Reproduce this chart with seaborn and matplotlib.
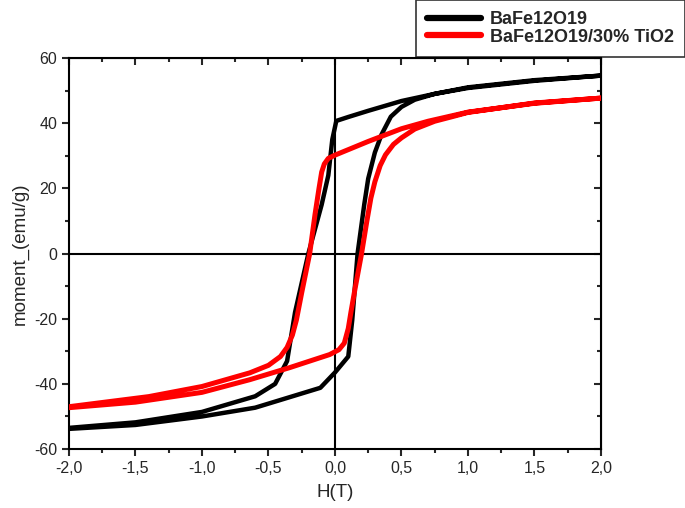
import numpy as np
import pandas as pd
import seaborn as sns
import matplotlib.pyplot as plt
from matplotlib.ticker import MultipleLocator, FuncFormatter

# hysteresis loops: descending branch (2 -> -2) then ascending (-2 -> 2)
h_bafe = [2.0, 1.5, 1.0, 0.75, 0.5, 0.25, 0.1, 0.01, -0.02, -0.05, -0.1, -0.2, -0.3, -0.36,
          -0.45, -0.6, -1.0, -1.5, -2.0,
          -2.0, -1.5, -1.0, -0.6, -0.11, 0.0, 0.1, 0.13, 0.17, 0.22, 0.25, 0.3, 0.35,
          0.42, 0.5, 0.6, 0.75, 1.0, 1.5, 2.0]
m_bafe = [54.6, 53.0, 50.8, 49.0, 46.8, 43.8, 41.9, 40.7, 35.0, 24.0, 15.0, 0.0, -18.0, -33.0,
          -40.0, -43.8, -48.6, -51.8, -53.5,
          -53.8, -52.6, -50.0, -47.3, -41.2, -36.5, -31.6, -20.4, 0.0, 15.0, 23.0, 31.0, 36.5,
          42.0, 45.0, 47.2, 49.0, 51.0, 53.2, 54.6]

h_tio2 = [2.0, 1.5, 1.0, 0.7, 0.5, 0.25, 0.0, -0.05, -0.08, -0.1, -0.12, -0.15, -0.19,
          -0.25, -0.29, -0.32, -0.36, -0.41, -0.5, -0.64, -1.0, -1.4, -2.0,
          -2.0, -1.5, -1.0, -0.64, -0.34, -0.04, 0.03, 0.07, 0.1, 0.12, 0.15, 0.2, 0.24,
          0.27, 0.3, 0.34, 0.38, 0.44, 0.5, 0.6, 0.75, 0.9, 1.0, 1.5, 2.0]
m_tio2 = [47.7, 46.1, 43.4, 40.6, 38.3, 34.4, 30.2, 29.2, 27.5, 25.0, 20.0, 12.0, 0.0,
          -12.0, -20.4, -25.0, -28.8, -31.6, -34.3, -36.6, -40.8, -43.9, -47.0,
          -47.3, -45.6, -42.6, -38.7, -35.0, -31.0, -29.5, -27.5, -23.0, -18.0, -11.0, 0.0, 10.0,
          17.0, 22.0, 27.0, 30.3, 33.5, 35.5, 38.2, 40.6, 42.2, 43.3, 46.2, 47.7]

labels = ['BaFe12O19', 'BaFe12O19/30% TiO2']
colors = ['black', 'red']

df = pd.concat([
    pd.DataFrame({'H': h_bafe, 'M': m_bafe, 'sample': labels[0]}),
    pd.DataFrame({'H': h_tio2, 'M': m_tio2, 'sample': labels[1]}),
], ignore_index=True)

sns.set_style('ticks')
plt.rcParams['font.family'] = ['Liberation Sans', 'DejaVu Sans']
plt.rcParams['axes.unicode_minus'] = False

fig = plt.figure(figsize=(6.85, 5.08), dpi=100)
ax = fig.add_axes([0.1007, 0.116, 0.7766, 0.7698])

ax.axhline(0, color='black', lw=1.5, zorder=1)
ax.axvline(0, color='black', lw=1.5, zorder=1)

sns.lineplot(data=df, x='H', y='M', hue='sample', sort=False, estimator=None,
             palette=dict(zip(labels, colors)), linewidth=3.2, ax=ax, zorder=3)
for line in ax.get_lines()[2:]:
    if line.get_color() == 'red':
        line.set_linewidth(3.6)
    line.set_solid_joinstyle('round')

ax.set_xlim(-2, 2)
ax.set_ylim(-60, 60)
ax.xaxis.set_major_locator(MultipleLocator(0.5))
ax.xaxis.set_minor_locator(MultipleLocator(0.25))
ax.yaxis.set_major_locator(MultipleLocator(20))
ax.yaxis.set_minor_locator(MultipleLocator(10))
ax.xaxis.set_major_formatter(FuncFormatter(lambda v, p: f'{v:.1f}'.replace('.', ',')))
ax.yaxis.set_major_formatter(FuncFormatter(lambda v, p: f'{v:.0f}'))
ax.tick_params(which='major', length=5, width=1.5, labelsize=11.5, direction='out')
ax.tick_params(which='minor', length=3, width=1.5, direction='out')
for s in ax.spines.values():
    s.set_linewidth(1.5)
    s.set_color('black')

# mirrored ticks on top/right pointing inward
top = ax.secondary_xaxis('top')
top.xaxis.set_major_locator(MultipleLocator(0.5))
top.xaxis.set_minor_locator(MultipleLocator(0.25))
top.tick_params(which='major', direction='in', length=5, width=1.5, labeltop=False)
top.tick_params(which='minor', direction='in', length=3, width=1.5)
right = ax.secondary_yaxis('right')
right.yaxis.set_major_locator(MultipleLocator(20))
right.yaxis.set_minor_locator(MultipleLocator(10))
right.tick_params(which='major', direction='in', length=5, width=1.5, labelright=False)
right.tick_params(which='minor', direction='in', length=3, width=1.5)

ax.set_xlabel('H(T)', fontsize=13.5, labelpad=6)
ax.set_ylabel('moment_(emu/g)', fontsize=13.5)

handles, _ = ax.get_legend_handles_labels()
ax.get_legend().remove()
leg = fig.legend(handles, labels, loc='upper right', bbox_to_anchor=(1.0, 1.0),
                 frameon=True, fancybox=False, edgecolor='black',
                 prop={'weight': 'bold', 'size': 13}, handlelength=3.0,
                 borderaxespad=0, labelspacing=0.05, borderpad=0.6,
                 handletextpad=0.5)
leg.get_frame().set_linewidth(1.2)
for lh in leg.get_lines():
    lh.set_linewidth(4.5)

fig.savefig('out.png', dpi=100)
